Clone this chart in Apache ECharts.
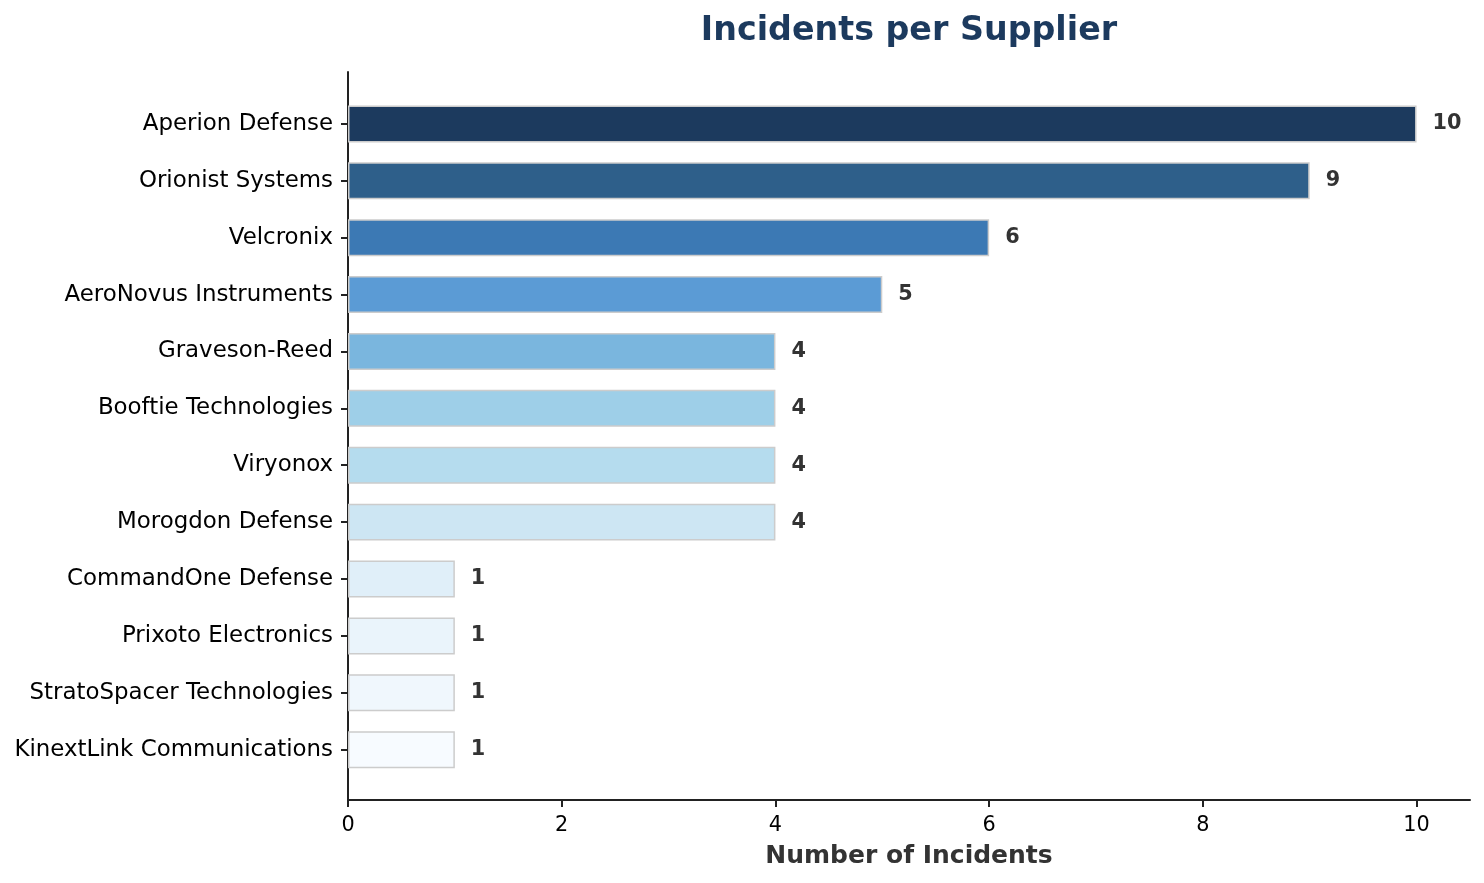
<!DOCTYPE html>
<html>
<head>
<meta charset="UTF-8">
<script src="https://cdn.jsdelivr.net/npm/echarts@6/dist/echarts.min.js"></script>
<style type="text/css">
 html,body{margin:0;padding:0;background:#fff;}
 #mainChart{width:1484px;height:883px;}
</style>
<title>Incidents per Supplier</title>
</head>
<body>
<div id="mainChart"></div>
<script type="text/javascript">
// data
var suppliers = ['Aperion Defense','Orionist Systems','Velcronix','AeroNovus Instruments','Graveson-Reed',
    'Booftie Technologies','Viryonox','Morogdon Defense','CommandOne Defense','Prixoto Electronics',
    'StratoSpacer Technologies','KinextLink Communications'];
var incidents = [10, 9, 6, 5, 4, 4, 4, 4, 1, 1, 1, 1];
var xTicks = [0, 2, 4, 6, 8, 10];
// reversed Blues
var palette = ['#1c3a5e','#2e5f8a','#3c79b4','#5b9bd5','#7ab6de','#9ecfe8',
    '#b5dcee','#cde6f3','#e0eff9','#eaf4fb','#f0f7fd','#f7fbff'];

var font = 'DejaVu Sans';
var myChart = echarts.init(document.getElementById('mainChart'));

var barData = incidents.map(function(v, i){
    return {value: v, itemStyle: {color: palette[i]}};
});

var option = {
    backgroundColor: '#ffffff',
    animation: false,
    title: {
        text: 'Incidents per Supplier',
        left: 909,
        top: 15,
        padding: 0,
        textAlign: 'center',
        textStyle: {fontFamily: font, fontSize: 33.3, fontWeight: 'bold', color: '#1c3a5e'}
    },
    grid: [
        // bars: category band area (matplotlib margins leave ~23px each side)
        {left: 348, right: 14, top: 95.5, height: 682.6},
        // frame with spines
        {left: 348, right: 14, top: 72, bottom: 83}
    ],
    xAxis: [
        {gridIndex: 0, type: 'value', min: 0, max: 10.5, show: false},
        {
            gridIndex: 1, type: 'value', min: 0, max: 10.5,
            name: 'Number of Incidents',
            nameLocation: 'middle',
            nameGap: 44,
            nameTextStyle: {fontFamily: font, fontSize: 25, fontWeight: 'bold', color: '#333333'},
            axisLine: {show: true, lineStyle: {color: '#222222', width: 2}},
            axisTick: {show: true, length: 7, customValues: xTicks, lineStyle: {color: '#222222', width: 2}},
            axisLabel: {show: true, margin: 15, customValues: xTicks, fontFamily: font, fontSize: 20.8, color: '#000000'},
            splitLine: {show: false}
        }
    ],
    yAxis: [
        {
            gridIndex: 0, type: 'category', inverse: true, data: suppliers,
            axisLine: {show: false},
            axisTick: {show: true, alignWithLabel: true, length: 7, lineStyle: {color: '#222222', width: 2}},
            axisLabel: {margin: 15, padding: [4, 0, 0, 0], fontFamily: font, fontSize: 22.9, color: '#000000'},
            splitLine: {show: false}
        },
        {
            gridIndex: 1, type: 'value', min: 0, max: 1,
            axisLine: {show: true, lineStyle: {color: '#222222', width: 2}},
            axisTick: {show: false},
            axisLabel: {show: false},
            splitLine: {show: false}
        }
    ],
    series: [
        {
            type: 'bar',
            xAxisIndex: 0,
            yAxisIndex: 0,
            barWidth: '65%',
            data: barData,
            itemStyle: {borderColor: '#cccccc', borderWidth: 1.5},
            label: {
                show: true,
                position: 'right',
                distance: 16,
                padding: [3, 0, 0, 0],
                formatter: '{c}',
                fontFamily: font,
                fontSize: 20.8,
                fontWeight: 'bold',
                color: '#333333'
            }
        }
    ]
};
myChart.setOption(option, true);
</script>
</body>
</html>
